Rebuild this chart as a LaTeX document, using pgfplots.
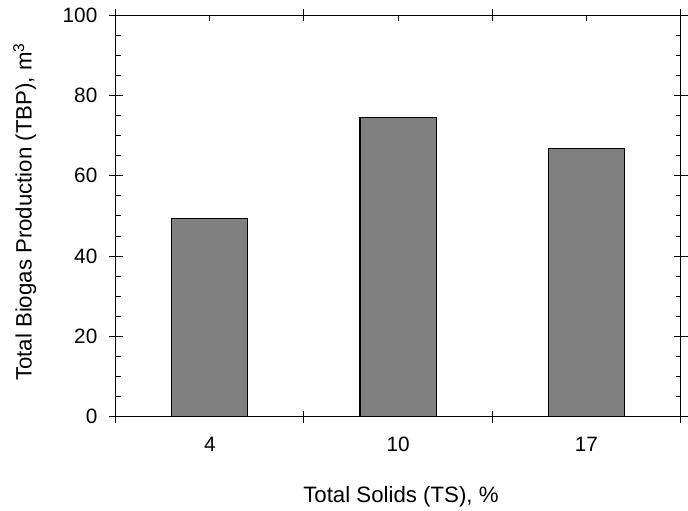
\documentclass[border=0pt]{standalone}
\usepackage{fontspec}
\setmainfont{Liberation Sans}
\usepackage{pgfplots}
\pgfplotsset{compat=1.18}
\begin{document}
\begin{tikzpicture}
\begin{axis}[
  scale only axis,
  width=571.5pt, height=406pt,
  xmin=0, xmax=3, ymin=0, ymax=100,
  ybar, bar width=0.405,
  /pgf/number format/assume math mode=true,
  axis line style={line width=1.2pt},
  tick style={black, line width=1pt},
  tick align=inside,
  major tick length=6pt, minor tick length=5pt,
  xtick={0.5,1.5,2.5}, xticklabels={4,10,17},
  ytick={0,20,...,100}, minor y tick num=3,
  extra x ticks={0,1,2,3}, extra x tick labels={},
  extra x tick style={tick align=center, major tick length=12pt},
  extra y ticks={0,20,...,100}, extra y tick labels={},
  extra y tick style={tick align=center, major tick length=14pt},
  tick label style={font=\fontsize{21}{25}\selectfont},
  x tick label style={yshift=-17pt},
  y tick label style={xshift=-15pt},
  xlabel={Total Solids (TS), \%},
  ylabel={Total Biogas Production (TBP), m\textsuperscript{3}},
  label style={font=\fontsize{22.5}{27}\selectfont},
  xlabel style={at={(axis description cs:0.505,-0.213)}, anchor=base},
  ylabel style={at={(axis description cs:-0.1489,0.51)}, anchor=base},
]
\addplot[fill=black!50, draw=black, line width=1.1pt] coordinates {(0.5,49.3) (1.5,74.5) (2.5,66.9)};
\end{axis}
\useasboundingbox ([xshift=-117pt,yshift=-89.5pt]current axis.south west) rectangle ([xshift=-0.8pt,yshift=15.5pt]current axis.north east);
\end{tikzpicture}
\end{document}
